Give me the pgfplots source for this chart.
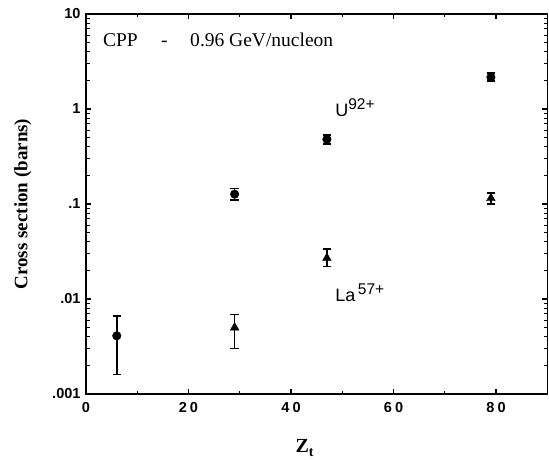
\documentclass[border=0pt]{standalone}
\usepackage{pgfplots}
\pgfplotsset{compat=1.18}
\usepackage{fontspec}
\setmainfont{Liberation Serif}
\newfontfamily\hv{Liberation Sans}
\begin{document}
\begin{tikzpicture}
\begin{axis}[
  scale only axis,
  width=461.3pt, height=380pt,
  xmin=0, xmax=90,
  ymode=log, ymin=0.001, ymax=10,
  axis line style={line width=1.2pt},
  every tick/.style={line width=1.1pt, black},
  major tick length=5pt, minor tick length=3.5pt,
  xtick={0,20,40,60,80},
  minor xtick={10,30,50,70,90},
  xticklabels={0,2\kern3pt0,4\kern3pt0,6\kern3pt0,8\kern3pt0},
  ytick={0.001,0.01,0.1,1,10},
  yticklabels={.001,.01,.1,1,10},
  ticklabel style={font=\fontsize{14.5}{14.5}\selectfont\hv\bfseries},
  xticklabel style={yshift=-5pt},
  yticklabel style={xshift=-2pt},
  xlabel={\fontsize{20}{20}\selectfont\bfseries Z\raisebox{-3.5pt}{\fontsize{14}{14}\selectfont t}},
  xlabel style={yshift=-20pt, xshift=-12pt},
  ylabel={\fontsize{19}{19}\selectfont\bfseries Cross section (barns)},
  ylabel style={yshift=14pt},
  clip=false,
]
% U92+ (circles)
\addplot[only marks, mark=*, mark size=4.3pt, black,
  error bars/.cd, y dir=both, y explicit,
  error bar style={line width=1.6pt},
  error mark options={rotate=90, mark size=4.2pt, line width=1.6pt}]
coordinates {
  (6,0.0041)  += (0,0.0025) -= (0,0.0025)
  (29,0.127)  += (0,0.019)  -= (0,0.017)
  (47,0.48)   += (0,0.05)   -= (0,0.05)
  (79,2.16)   += (0,0.22)   -= (0,0.2)
};
% La57+ (triangles)
\addplot[only marks, mark=triangle*, mark size=5pt, black,
  error bars/.cd, y dir=both, y explicit,
  error bar style={line width=1.6pt},
  error mark options={rotate=90, mark size=4.2pt, line width=1.6pt}]
coordinates {
  (29,0.005)  += (0,0.0019) -= (0,0.002)
  (47,0.027)  += (0,0.0066) -= (0,0.0051)
  (79,0.115)  += (0,0.016)  -= (0,0.015)
};
\node[anchor=base west, inner sep=0pt, font=\fontsize{19.5}{19.5}\selectfont] at (axis cs:3.3,4.53) {CPP};
\node[anchor=base west, inner sep=0pt, font=\fontsize{19.5}{19.5}\selectfont] at (axis cs:14.6,4.53) {-};
\node[anchor=base west, inner sep=0pt, font=\fontsize{19.5}{19.5}\selectfont] at (axis cs:20.3,4.53) {0.96 GeV/nucleon};
\node[anchor=base west, inner sep=0pt, font=\fontsize{18}{18}\selectfont\hv] at (axis cs:48.6,0.83) {U\raisebox{7.5pt}{\fontsize{15.5}{15.5}\selectfont 92+}};
\node[anchor=base west, inner sep=0pt, font=\fontsize{18}{18}\selectfont\hv] at (axis cs:48.6,0.0094) {La\raisebox{7.5pt}{\fontsize{15.5}{15.5}\selectfont\,57+}};
\end{axis}
\pgfresetboundingbox
\path[use as bounding box] ([shift={(-86pt,-65pt)}]current axis.south west) rectangle ([shift={(1.7pt,14pt)}]current axis.north east);
\end{tikzpicture}
\end{document}
